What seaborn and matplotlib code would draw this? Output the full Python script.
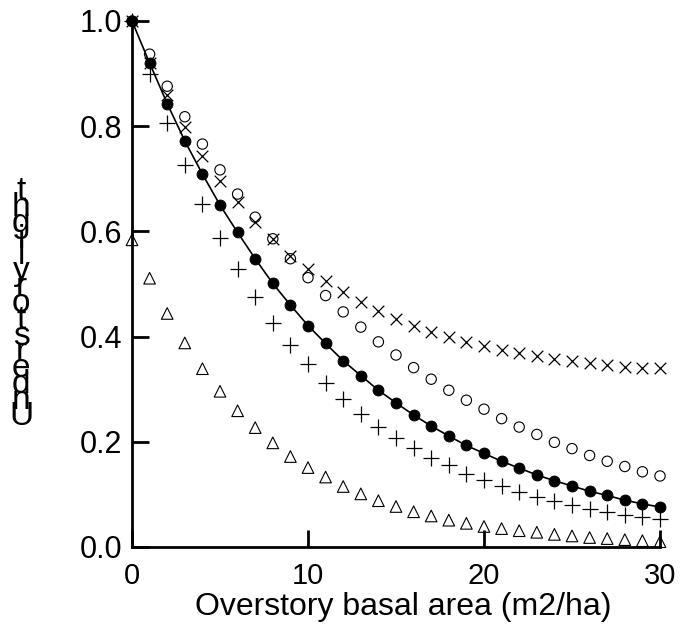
import matplotlib
matplotlib.use("Agg")
import matplotlib.pyplot as plt
import seaborn as sns
import pandas as pd

sns.set_theme(style="ticks")
plt.rcParams['font.family'] = ['Liberation Sans', 'DejaVu Sans']
plt.rcParams['text.color'] = 'black'
plt.rcParams['axes.labelcolor'] = 'black'

basal_area = list(range(31))
model_fit = [1.0, 0.920, 0.843, 0.772, 0.709, 0.650, 0.598, 0.548, 0.501, 0.460, 0.421,
             0.387, 0.354, 0.326, 0.298, 0.274, 0.251, 0.230, 0.211, 0.193, 0.178,
             0.163, 0.150, 0.137, 0.126, 0.116, 0.106, 0.098, 0.089, 0.082, 0.076]
open_circles = [1.0, 0.937, 0.876, 0.818, 0.766, 0.717, 0.671, 0.627, 0.586, 0.548, 0.512,
                0.478, 0.447, 0.418, 0.390, 0.365, 0.341, 0.319, 0.298, 0.279, 0.262,
                0.244, 0.228, 0.214, 0.199, 0.187, 0.174, 0.163, 0.153, 0.143, 0.135]
crosses = [1.0, 0.920, 0.859, 0.798, 0.744, 0.696, 0.655, 0.618, 0.585, 0.554, 0.528,
           0.506, 0.484, 0.465, 0.448, 0.434, 0.421, 0.409, 0.400, 0.390, 0.383,
           0.375, 0.369, 0.363, 0.357, 0.353, 0.350, 0.346, 0.343, 0.341, 0.340]
pluses = [1.0, 0.899, 0.807, 0.726, 0.653, 0.587, 0.528, 0.475, 0.426, 0.384, 0.347,
          0.312, 0.281, 0.253, 0.228, 0.208, 0.188, 0.170, 0.155, 0.139, 0.127,
          0.116, 0.105, 0.095, 0.087, 0.080, 0.072, 0.067, 0.060, 0.057, 0.053]
triangles = [0.584, 0.511, 0.444, 0.388, 0.339, 0.296, 0.259, 0.227, 0.198, 0.172, 0.151,
             0.133, 0.115, 0.101, 0.088, 0.077, 0.067, 0.059, 0.051, 0.045, 0.039,
             0.035, 0.031, 0.028, 0.024, 0.021, 0.018, 0.016, 0.014, 0.012, 0.010]

x_ticks = [0, 10, 20, 30]
y_ticks = [0.0, 0.2, 0.4, 0.6, 0.8, 1.0]
x_label = "Overstory basal area (m2/ha)"
y_label = "Understory light"

df = pd.DataFrame({"x": basal_area, "fit": model_fit, "oc": open_circles,
                   "cr": crosses, "pl": pluses, "tr": triangles})

fig = plt.figure(figsize=(6.82, 6.33), dpi=100)
ax = fig.add_axes([132/682, 1-547/633, (660-132)/682, (547-21)/633])

sns.scatterplot(data=df, x="x", y="tr", ax=ax, marker="^", s=70, facecolor="none",
                edgecolor="black", linewidth=0.8, clip_on=False, zorder=3)
sns.scatterplot(data=df, x="x", y="pl", ax=ax, marker="+", s=130, color="black",
                linewidth=0.9, clip_on=False, zorder=3)
sns.scatterplot(data=df, x="x", y="cr", ax=ax, marker="x", s=70, color="black",
                linewidth=0.9, clip_on=False, zorder=3)
sns.scatterplot(data=df, x="x", y="oc", ax=ax, marker="o", s=55, facecolor="none",
                edgecolor="black", linewidth=0.8, clip_on=False, zorder=3)
sns.lineplot(data=df, x="x", y="fit", ax=ax, color="black", linewidth=1.2, zorder=4)
sns.scatterplot(data=df, x="x", y="fit", ax=ax, marker="o", s=62, color="black",
                edgecolor="black", clip_on=False, zorder=5)

ax.set_xlim(0, 30)
ax.set_ylim(0, 1.0)
ax.set_xticks(x_ticks)
ax.set_yticks(y_ticks)
ax.set_xticklabels([str(t) for t in x_ticks], fontsize=21)
ax.set_yticklabels([f"{t:.1f}" for t in y_ticks], fontsize=22)
ax.tick_params(direction="in", length=12, width=2, colors="black", labelcolor="black")
ax.tick_params(axis="x", pad=11)
ax.tick_params(axis="y", pad=7)
for s in ["left", "bottom"]:
    ax.spines[s].set_linewidth(2)
    ax.spines[s].set_color("black")
sns.despine(ax=ax)
ax.set_xlabel(x_label, fontsize=23, color="black")
ax.xaxis.set_label_coords(0.514, -0.086)
ax.set_ylabel("")
ax.grid(False)

stacked = "\n".join(reversed(y_label.replace(" ", "")))
fig.text(21/682, 1-304/633, stacked, ha="center", va="center", fontsize=24,
         linespacing=0.38, color="black")

fig.savefig("out.png", dpi=100)
